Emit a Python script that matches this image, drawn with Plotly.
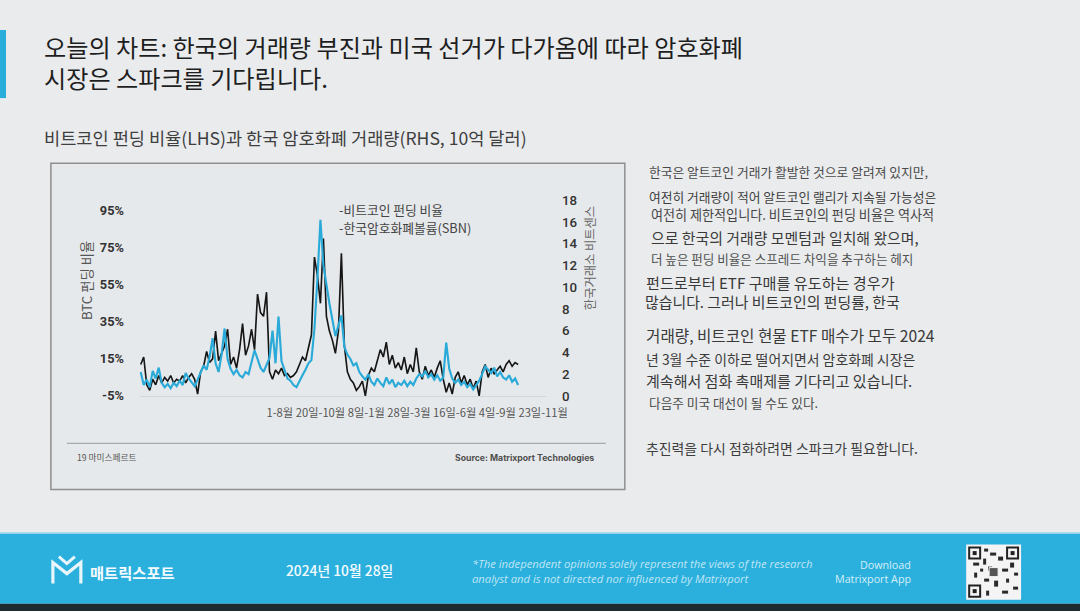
import plotly.graph_objects as go

# The page is photographed scaled (~0.982 horizontally, ~0.975 vertically, ~7px top offset);
# lay the figure out in reference-pixel units and convert.
SX = 0.982
SY = 0.975
OFF = 7.2            # page px offset at top
FW, FH = 1108, 627   # figure size in page px

# ---------------- data ----------------
btc_funding_pct = [12, 16, 1, -2, 4, 1, 6, 2, 5, 3, 6, 2, 4, 3, 6, 2, 5, 7, 4, -4,
                   8, 11, 19, 13, 15, 30, 14, 18, 22, 31, 12, 16, 10, 20, 34, 17, 22, 31, 20, 50,
                   40, 38, 51, 8, 4, 9, 7, 10, 6, 7, 5, 6, 8, 12, 16, 14, 22, 28, 70, 60,
                   45, 80, 38, 30, 25, 18, 30, 72, 22, 8, 4, 2, -2, 0, 3, -5, 6, 10, 8, 14,
                   20, 16, 24, 12, 17, 10, 13, 9, 16, 7, 12, 8, 21, 8, 4, 11, 6, 9, 5, 10,
                   14, 4, -3, 2, -4, 5, 8, 2, 6, 1, 4, -1, 3, -5, 8, 12, 5, 10, 7, 9,
                   11, 8, 12, 14, 11, 13, 12]
korea_volume_bn = [2.2, 1.0, 1.5, 0.8, 2.3, 1.6, 2.6, 1.2, 0.8, 1.1, 0.7, 1.2, 0.9, 1.4, 1.0, 2.1, 1.6, 1.2, 0.9, 1.5,
                   2.2, 2.8, 2.4, 3.6, 5.3, 3.0, 2.2, 3.8, 6.2, 3.4, 2.5, 2.0, 2.4, 1.9, 1.7, 2.2, 2.0, 3.2, 4.2, 3.4,
                   2.6, 2.2, 2.8, 3.5, 6.0, 3.0, 7.3, 3.2, 2.4, 1.6, 1.4, 1.0, 0.8, 1.4, 1.9, 2.4, 3.0, 3.3, 6.2, 10.8,
                   16.2, 12.0, 10.0, 8.5, 7.0, 5.5, 6.5, 7.4, 4.5, 3.8, 3.4, 2.8, 3.0, 2.2, 1.8, 1.5, 2.0, 1.3, 1.0, 1.6,
                   1.2, 0.9, 1.7, 1.1, 1.5, 0.8, 1.2, 1.0, 1.4, 0.9, 1.3, 1.0, 1.6, 2.0, 1.8, 2.3, 1.7, 2.0, 1.5, 1.9,
                   1.4, 1.7, 4.9, 2.5, 1.6, 1.2, 1.5, 1.0, 1.3, 0.8, 1.1, 0.6, 1.0, 1.4, 2.0, 2.7, 2.4, 2.1, 2.6, 1.8,
                   2.2, 1.7, 1.5, 1.9, 1.3, 1.6, 1.0]
periods = list(range(len(btc_funding_pct)))

left_ticks = [-5, 15, 35, 55, 75, 95]
left_tick_text = ["-5%", "15%", "35%", "55%", "75%", "95%"]
right_ticks = [0, 2, 4, 6, 8, 10, 12, 14, 16, 18]
x_tick_pos = [92.3]
x_tick_text = ["1-8월 20일-10월 8일-1월 28일-3월 16일-6월 4일-9월 23일-11월"]

legend_labels = ["-비트코인 펀딩 비율", "-한국암호화폐볼륨(SBN)"]
title_lines = ["오늘의 차트: 한국의 거래량 부진과 미국 선거가 다가옴에 따라 암호화폐",
               "시장은 스파크를 기다립니다."]
subtitle = "비트코인 펀딩 비율(LHS)과 한국 암호화폐 거래량(RHS, 10억 달러)"

# paragraph lines: (text, x, y, size, color)
paragraph = [
    ("한국은 알트코인 거래가 활발한 것으로 알려져 있지만,", 648, 171, 12.5, "#4a4a4a"),
    ("여전히 거래량이 적어 알트코인 랠리가 지속될 가능성은", 648, 196, 12.5, "#3e3e3e"),
    ("여전히 제한적입니다. 비트코인의 펀딩 비율은 역사적", 650, 214, 12.8, "#454545"),
    ("으로 한국의 거래량 모멘텀과 일치해 왔으며,", 650, 237, 14.6, "#3a3a3a"),
    ("더 높은 펀딩 비율은 스프레드 차익을 추구하는 헤지", 650, 258, 12.3, "#505050"),
    ("펀드로부터 ETF 구매를 유도하는 경우가", 645, 282, 14.8, "#383838"),
    ("많습니다. 그러나 비트코인의 펀딩률, 한국", 644, 301, 14.6, "#383838"),
    ("거래량, 비트코인 현물 ETF 매수가 모두 2024", 645, 335, 15.3, "#3a3a3a"),
    ("년 3월 수준 이하로 떨어지면서 암호화폐 시장은", 645, 359, 13.6, "#3c3c3c"),
    ("계속해서 점화 촉매제를 기다리고 있습니다.", 645, 380, 14.7, "#3a3a3a"),
    ("다음주 미국 대선이 될 수도 있다.", 648, 402, 12.4, "#4a4a4a"),
    ("추진력을 다시 점화하려면 스파크가 필요합니다.", 645, 448, 13.6, "#3e3e3e"),
]

KR = "Noto Sans CJK KR"
BG = "#e9ebed"


def px(x):
    """reference pixel x -> paper x"""
    return (x / SX) / FW


def py(y):
    """reference pixel y -> paper y"""
    return 1 - (y / SY - OFF) / FH


def fs(v):
    return v / 0.978


fig = go.Figure()
fig.add_trace(go.Scatter(x=periods, y=btc_funding_pct, mode="lines", name=legend_labels[0],
                         line=dict(color="#151515", width=fs(1.6)), yaxis="y"))
fig.add_trace(go.Scatter(x=periods, y=korea_volume_bn, mode="lines", name=legend_labels[1],
                         line=dict(color="#2aaad8", width=fs(2.1)), yaxis="y2"))

plot_top, plot_bot = 200, 395.5
fig.update_layout(
    width=FW, height=FH, autosize=False, margin=dict(l=0, r=0, t=0, b=0, pad=0),
    paper_bgcolor=BG, plot_bgcolor="rgba(0,0,0,0)",
    showlegend=False,
    xaxis=dict(domain=[px(140), px(547)], range=[-0.33, 135.3], showgrid=False, zeroline=False,
               showline=True, linecolor="#d3d6d8", linewidth=1,
               tickvals=x_tick_pos, ticktext=x_tick_text, ticks="outside", ticklen=fs(6),
               tickcolor="rgba(0,0,0,0)", tickfont=dict(family=KR, size=fs(11), color="#555")),
    yaxis=dict(domain=[py(plot_bot), py(plot_top)], range=[-5, 100.7], showgrid=False, zeroline=False,
               tickvals=left_ticks, ticktext=left_tick_text, ticks="outside", ticklen=fs(12),
               tickcolor="rgba(0,0,0,0)",
               tickfont=dict(family="Roboto", size=fs(12.5), color="#333", weight=700)),
    yaxis2=dict(overlaying="y", side="right", range=[0, 18], showgrid=False, zeroline=False,
                tickvals=right_ticks, ticks="outside", ticklen=fs(12), tickcolor="rgba(0,0,0,0)",
                tickfont=dict(family="Roboto", size=fs(13), color="#333", weight=500)),
)

shapes = []


def rect(x0, y0, x1, y1, fill, line=None, layer="below"):
    shapes.append(dict(type="rect", xref="paper", yref="paper", x0=px(x0), x1=px(x1), y0=py(y1), y1=py(y0),
                       fillcolor=fill, line=line or dict(width=0), layer=layer))


# left accent bar
rect(0, 30, 6, 98, "#29aedc")
# chart box
rect(51, 163, 626, 489, "#e6e9eb", dict(color="#8f8f8f", width=1.5))
# inner separator line
shapes.append(dict(type="line", xref="paper", yref="paper", x0=px(67), x1=px(607), y0=py(443), y1=py(443),
                   line=dict(color="#a9abad", width=1.2), layer="below"))
# footer band
rect(-5, 532, 1110, 603, "#2bb0de")
shapes.append(dict(type="line", xref="paper", yref="paper", x0=0, x1=1, y0=py(532.5), y1=py(532.5),
                   line=dict(color="#b9dfee", width=1.5), layer="below"))
rect(-5, 603, 1110, 640, "#1d2b31")


def ppath(points):
    return "M " + " L ".join(f"{px(a):.5f},{py(b):.5f}" for a, b in points)


# logo (M with chevron)
shapes.append(dict(type="path", xref="paper", yref="paper",
                   path=ppath([(53, 583), (53, 562), (67, 573), (81, 562), (81, 583)]),
                   line=dict(color="#e8f6fb", width=3.2), layer="above"))
shapes.append(dict(type="path", xref="paper", yref="paper",
                   path=ppath([(59, 556), (67, 563), (75, 556)]),
                   line=dict(color="#e8f6fb", width=3), layer="above"))
# QR code
rect(968, 544, 1023, 599, "#f4f4f4", layer="above")
for (qx, qy) in [(971, 547), (1009, 547), (971, 585)]:
    rect(qx, qy, qx + 11, qy + 11, "rgba(0,0,0,0)", dict(color="#222", width=2), layer="above")
    rect(qx + 3.5, qy + 3.5, qx + 7.5, qy + 7.5, "#222", layer="above")
qr_blocks = [(986, 548, 4, 3), (992, 552, 6, 3), (985, 558, 3, 6), (1000, 556, 5, 4), (975, 562, 6, 3),
             (1012, 562, 4, 5), (990, 566, 4, 4), (1004, 568, 6, 3), (976, 572, 3, 5), (986, 578, 5, 3),
             (996, 580, 4, 6), (1008, 578, 3, 4), (1015, 586, 5, 3), (1004, 590, 6, 3), (988, 590, 3, 5),
             (995, 572, 3, 3), (982, 568, 3, 3), (1016, 572, 4, 3)]
for (bx, by, bw, bh) in qr_blocks:
    rect(bx, by, bx + bw, by + bh, "#2a2a2a", layer="above")
rect(991, 567, 1000, 576, "#555", dict(color="#f4f4f4", width=1), layer="above")
fig.update_layout(shapes=shapes)

ann = []


def text(t, x, y, size, color="#333", family=KR, xanchor="left", angle=0, weight=None, italic=False):
    f = dict(family=family, size=fs(size), color=color)
    if weight:
        f["weight"] = weight
    if italic:
        f["style"] = "italic"
    ann.append(dict(text=t, x=px(x), y=py(y), xref="paper", yref="paper", showarrow=False,
                    xanchor=xanchor, yanchor="middle", textangle=angle, font=f, align="left"))


text("<br>".join(title_lines), 42, 62, 23.6, "#1e1e1e")
text(subtitle, 42, 137, 17.2, "#3f3f3f")

text(legend_labels[0], 338, 209, 12.5, "#444")
text(legend_labels[1], 338, 227, 12.5, "#444")
text("BTC 펀딩 비율", 86, 280, 13, "#555", angle=-90, xanchor="center")
text("한국거래소 비트센스", 591, 258, 12, "#666", angle=-90, xanchor="center")
text("19 마미스페르트", 75, 457, 8.5, "#555")
text("Source: Matrixport Technologies", 597, 458, 8.5, "#505050", family="Inter", xanchor="right", weight=700)

for (t, x, y, s, c) in paragraph:
    text(t, x, y, s, c)

# footer texts
text("매트릭스포트", 88, 571, 15, "#f4fbfe", weight=700)
text("2024년 10월 28일", 285, 569, 13.5, "#f4fbfe", weight=500)
text("*The independent opinions solely represent the views of the research<br>"
     "analyst and is not directed nor influenced by Matrixport", 471, 570.5, 11,
     "#bfe5f3", family="Open Sans", italic=True)
text("Download", 915, 564, 10.5, "#d6eef8", family="Open Sans", xanchor="right")
text("Matrixport App", 915, 578, 10.5, "#d6eef8", family="Open Sans", xanchor="right")

fig.update_layout(annotations=ann)
fig.write_html("out.html", config={"responsive": False, "displayModeBar": False},
               post_script="document.body.style.margin='0';document.body.style.overflow='hidden';"
                           "document.body.style.background='" + BG + "';"
                           "document.documentElement.style.background='" + BG + "';")
